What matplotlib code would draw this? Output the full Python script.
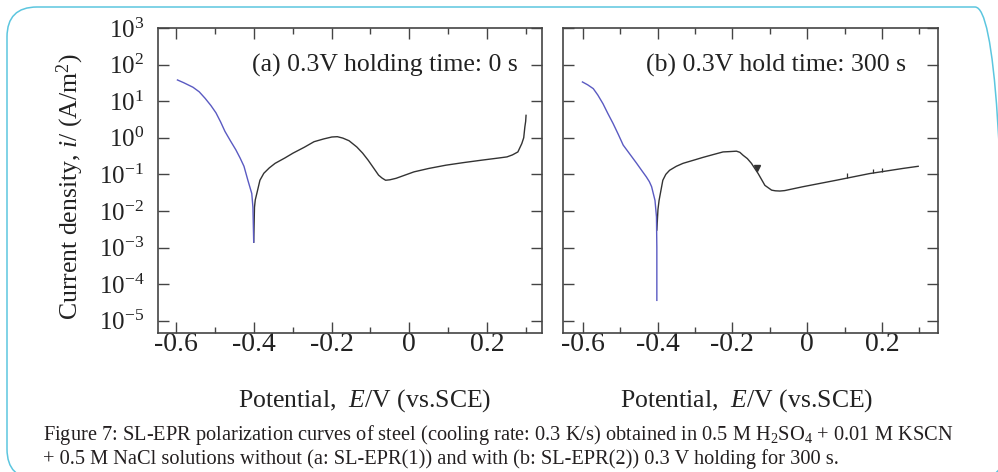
import numpy as np
import matplotlib
matplotlib.use('Agg')
import matplotlib.pyplot as plt
from matplotlib.patches import FancyBboxPatch
from matplotlib.ticker import LogLocator, MultipleLocator, NullLocator, FuncFormatter

plt.rcParams['font.family'] = ['Liberation Serif', 'DejaVu Serif']
plt.rcParams['mathtext.fontset'] = 'custom'
plt.rcParams['mathtext.rm'] = 'Liberation Serif'
plt.rcParams['mathtext.it'] = 'Liberation Serif:italic'
plt.rcParams['axes.unicode_minus'] = False

# ---------------- data ----------------
# (a) 0.3 V holding time 0 s
a_cath_E = [-0.596, -0.580, -0.556, -0.540, -0.525, -0.510, -0.497, -0.485, -0.474, -0.460,
            -0.446, -0.435, -0.425, -0.415, -0.405, -0.402, -0.400]
a_cath_i = [38, 32, 24, 18, 12, 7.6, 4.8, 2.7, 1.5, 0.83,
            0.47, 0.28, 0.166, 0.069, 0.030, 0.0126, 0.0014]
a_anod_E = [-0.400, -0.398, -0.396, -0.392, -0.384, -0.374, -0.360, -0.345, -0.320, -0.299,
            -0.270, -0.245, -0.220, -0.199, -0.185, -0.171, -0.155, -0.135, -0.120, -0.106,
            -0.092, -0.079, -0.070, -0.061, -0.050, -0.034, 0.012, 0.050, 0.094, 0.140,
            0.187, 0.230, 0.251, 0.265, 0.279, 0.289, 0.294, 0.297, 0.299, 0.300]
a_anod_i = [0.0014, 0.0126, 0.020, 0.030, 0.069, 0.107, 0.15, 0.20, 0.28, 0.38,
            0.55, 0.78, 0.93, 1.05, 1.07, 0.98, 0.83, 0.56, 0.38, 0.245,
            0.15, 0.095, 0.079, 0.069, 0.071, 0.078, 0.117, 0.145, 0.178, 0.21,
            0.245, 0.28, 0.30, 0.34, 0.41, 0.69, 1.0, 2.0, 2.8, 4.1]

# (b) 0.3 V hold time 300 s
b_cath_E = [-0.601, -0.587, -0.572, -0.560, -0.546, -0.533, -0.519, -0.505, -0.492, -0.474,
            -0.456, -0.443, -0.430, -0.422, -0.416, -0.407, -0.403, -0.402, -0.402]
b_cath_i = [33.5, 28, 22, 14.8, 8.5, 4.6, 2.45, 1.23, 0.63, 0.355,
            0.20, 0.13, 0.085, 0.063, 0.046, 0.0195, 0.0069, 0.001, 0.000036]
b_anod_E = [-0.402, -0.399, -0.396, -0.386, -0.378, -0.368, -0.350, -0.332, -0.300, -0.279,
            -0.250, -0.225, -0.205, -0.189, -0.180, -0.171, -0.160, -0.149, -0.131, -0.113,
            -0.095, -0.085, -0.073, -0.060, -0.011, 0.078, 0.167, 0.256, 0.297]
b_anod_i = [0.003, 0.011, 0.0195, 0.069, 0.10, 0.129, 0.166, 0.20, 0.25, 0.29,
            0.35, 0.41, 0.42, 0.43, 0.40, 0.33, 0.27, 0.20, 0.105, 0.050,
            0.037, 0.0355, 0.035, 0.036, 0.046, 0.069, 0.105, 0.145, 0.166]
b_spike_E = [0.107, 0.175, 0.199]
b_spike_rise = [1.35, 1.3, 1.3]
b_arrow_E = [-0.133]
b_arrow_i = [0.145]

x_ticks_major = 0.2
x_ticks_minor = 0.1
ylim = (10 ** -5.336, 1e3)

label_a = "(a) 0.3V holding time: 0 s"
label_b = "(b) 0.3V hold time: 300 s"
xlabel = "Potential,  $\\mathit{E}$/V (vs.SCE)"
ylabel = "Current density, $\\mathit{i}$/ (A/m$^{2}$)"
caption1 = "Figure 7: SL-EPR polarization curves of steel (cooling rate: 0.3 K/s) obtained in 0.5 M H$_{2}$SO$_{4}$ + 0.01 M KSCN"
caption2 = "+ 0.5 M NaCl solutions without (a: SL-EPR(1)) and with (b: SL-EPR(2)) 0.3 V holding for 300 s."

BLUE = '#5a5ac2'
DARK = '#333333'
W, H = 998, 472

fig = plt.figure(figsize=(W / 100, H / 100), dpi=100)
fig.patch.set_facecolor('white')

# rounded border
border = FancyBboxPatch((0.07, -0.07), 9.98, 4.72, boxstyle="round,pad=0,rounding_size=0.30",
                        transform=fig.dpi_scale_trans, fill=False, edgecolor='#5cc6df', linewidth=1.1)
fig.add_artist(border)

def px_axes(x0, x1, y0, y1):
    return fig.add_axes([x0 / W, 1 - y1 / H, (x1 - x0) / W, (y1 - y0) / H])

ax1 = px_axes(158, 542, 28, 333)
ax2 = px_axes(563, 938, 28, 333)

def xfmt(v, pos):
    if abs(v) < 1e-9:
        return "0"
    return "%.1f" % v

def yfmt(v, pos):
    e = int(round(np.log10(v)))
    return r'$\mathregular{10^{%d}}$' % e

for ax, xl in ((ax1, (-0.646, 0.341)), (ax2, (-0.653, 0.350))):
    ax.set_yscale('log')
    ax.set_xlim(*xl)
    ax.set_ylim(*ylim)
    ax.xaxis.set_major_locator(MultipleLocator(x_ticks_major))
    ax.xaxis.set_minor_locator(MultipleLocator(x_ticks_minor))
    ax.yaxis.set_major_locator(LogLocator(base=10, numticks=20))
    ax.yaxis.set_minor_locator(NullLocator())
    ax.xaxis.set_major_formatter(FuncFormatter(xfmt))
    ax.yaxis.set_major_formatter(FuncFormatter(yfmt))
    ax.tick_params(which='both', direction='in', top=True, right=True, color='#444444', width=1.0)
    ax.tick_params(which='major', length=8)
    ax.tick_params(which='minor', length=4)
    ax.tick_params(axis='x', labelsize=20, pad=-1, labelcolor='#222222')
    ax.tick_params(axis='y', labelsize=18, pad=10, labelcolor='#222222')
    for s in ax.spines.values():
        s.set_color('#444444')
        s.set_linewidth(1.2)

ax2.tick_params(axis='y', labelleft=False)

ax1.plot(a_anod_E, a_anod_i, color=DARK, lw=1.0)
ax1.plot(a_cath_E, a_cath_i, color=BLUE, lw=1.0)

ax2.plot(b_anod_E, b_anod_i, color=DARK, lw=1.0)
ax2.plot(b_cath_E, b_cath_i, color=BLUE, lw=1.0)
base = 10 ** np.interp(b_spike_E, b_anod_E, np.log10(b_anod_i))
ax2.vlines(b_spike_E, base, base * np.array(b_spike_rise), color=DARK, lw=0.9)
ax2.plot(b_arrow_E, b_arrow_i, marker='v', ms=4, color=DARK, ls='none')

def ftext(x, y, s, **kw):
    fig.text(x / W, 1 - y / H, s, **kw)

ftext(252, 65, label_a, fontsize=18.5, ha='left', va='center', color='#222222')
ftext(646, 65, label_b, fontsize=18.5, ha='left', va='center', color='#222222')
ftext(365, 401, xlabel, fontsize=18.5, ha='center', va='center', color='#222222')
ftext(747, 401, xlabel, fontsize=18.5, ha='center', va='center', color='#222222')
ftext(70, 187, ylabel, fontsize=18.5, ha='center', va='center', rotation=90, color='#222222')
ftext(43, 435, caption1, fontsize=14.7, ha='left', va='center', color='#231f20')
ftext(43, 459, caption2, fontsize=14.7, ha='left', va='center', color='#231f20')

fig.savefig('out.png', dpi=100)
